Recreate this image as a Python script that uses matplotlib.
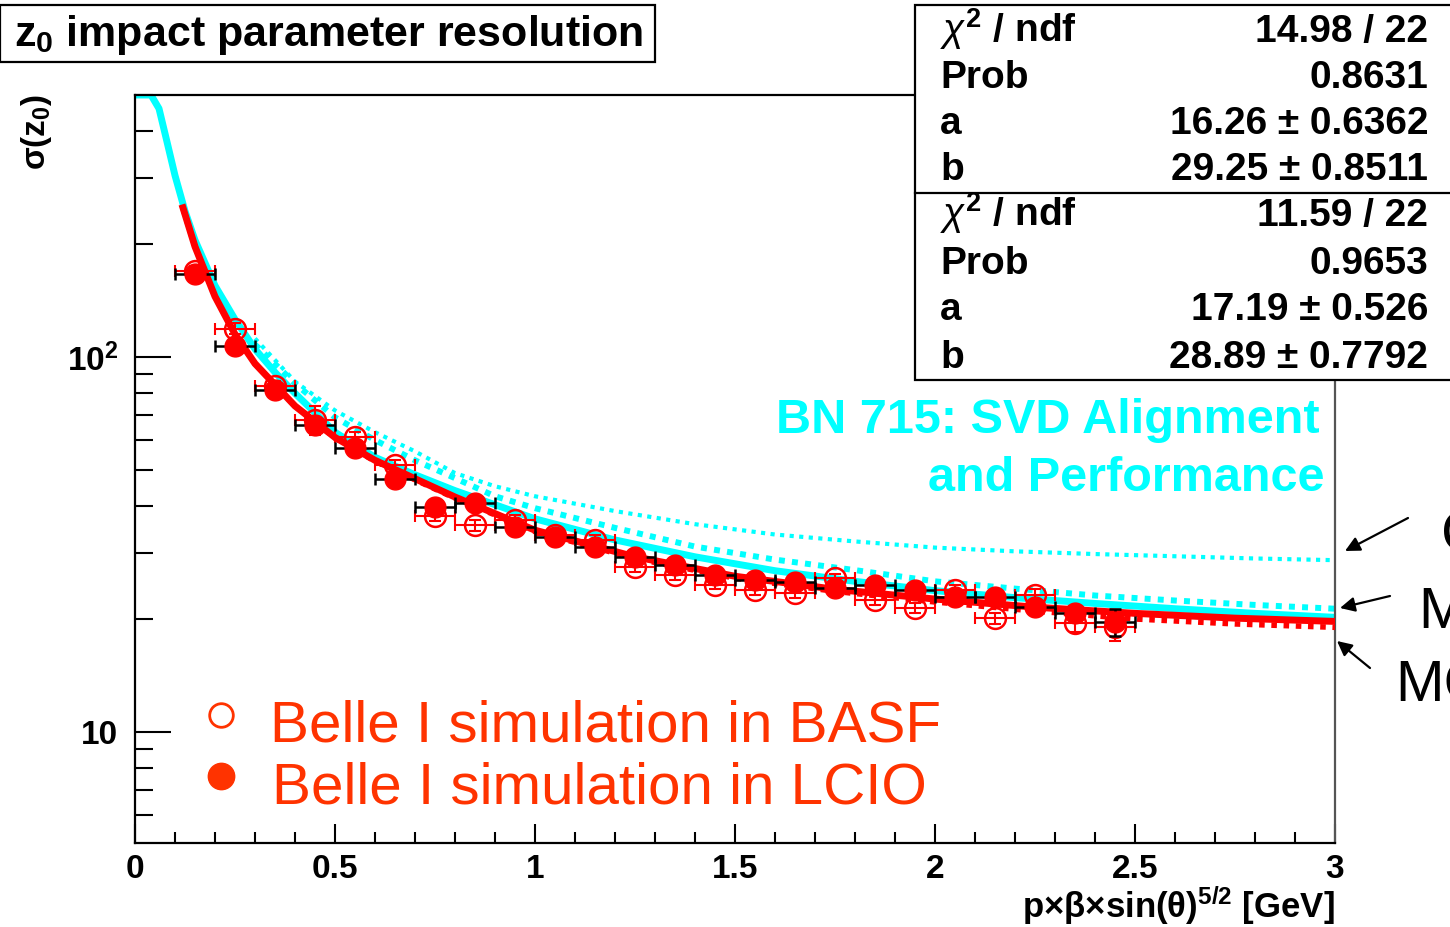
import numpy as np
import matplotlib
matplotlib.use("Agg")
import matplotlib.pyplot as plt
from matplotlib.patches import Rectangle, FancyArrowPatch
from matplotlib.lines import Line2D
from matplotlib.ticker import FixedLocator, FixedFormatter, NullFormatter, MultipleLocator, LogLocator

plt.rcParams['font.family'] = ['Liberation Sans', 'DejaVu Sans']
plt.rcParams['mathtext.fontset'] = 'custom'
plt.rcParams['mathtext.rm'] = 'Liberation Sans'
plt.rcParams['mathtext.bf'] = 'Liberation Sans:bold'
plt.rcParams['mathtext.it'] = 'Liberation Sans:italic'

# ---------------- data ----------------
bin_centers = [0.15, 0.25, 0.35, 0.45, 0.55, 0.65, 0.75, 0.85, 0.95, 1.05, 1.15, 1.25,
               1.35, 1.45, 1.55, 1.65, 1.75, 1.85, 1.95, 2.05, 2.15, 2.25, 2.35, 2.45]
bin_half_width = 0.05

lcio_sigma = [166, 107, 81.5, 66, 57.3, 47.3, 39.8, 40.8, 35.2, 33.1, 31.1, 29.3,
              27.9, 26.2, 25.4, 25.1, 24.2, 24.7, 23.9, 22.9, 22.9, 21.5, 20.8, 19.6]
lcio_err = [4, 3, 2.2, 2, 1.5, 1.3, 1.0, 1.0, 0.9, 0.8, 0.7, 0.7,
            0.6, 0.6, 0.6, 0.6, 0.6, 0.6, 0.6, 0.6, 0.6, 0.7, 0.9, 1.6]

basf_sigma = [170, 119, 83.5, 68, 61, 51.5, 37.7, 35.6, 36.7, 33.5, 32.5, 27.5,
              26.2, 24.7, 23.9, 23.5, 25.7, 22.5, 21.4, 23.9, 20.1, 23.2, 19.5, 19.0]
basf_err = [5, 4, 3, 6, 2, 1.5, 1.2, 1.2, 1.1, 1.0, 0.9, 0.8,
            0.8, 0.7, 0.7, 0.7, 0.7, 0.7, 0.7, 0.7, 0.7, 0.8, 1.0, 1.5]

fit_x = [0.12, 0.15, 0.2, 0.25, 0.3, 0.4, 0.5, 0.6, 0.8, 1.0, 1.25, 1.5, 1.75, 2.0, 2.25, 2.5, 2.75, 3.0]
fit_lcio = [250, 197, 145, 115, 96, 74, 61, 53, 42.3, 34.5, 29.3, 26.0, 24.0, 22.6, 21.5, 20.7, 20.1, 19.7]
fit_basf = [249, 197, 145, 115, 96, 74, 60.8, 52.7, 42.0, 34.2, 29.0, 25.7, 23.7, 22.2, 21.0, 20.0, 19.4, 19.0]

bn_x = [0.005, 0.04, 0.06, 0.08, 0.10, 0.125, 0.15, 0.2, 0.25, 0.3, 0.35, 0.4, 0.5, 0.6,
        0.7, 0.8, 1.0, 1.2, 1.4, 1.6, 1.8, 2.0, 2.2, 2.4, 2.6, 2.8, 3.0]
bn_solid = [500, 500, 460, 375, 305, 245, 205, 155, 126, 105, 91, 80, 63, 54,
            48.5, 44, 37, 32.5, 29.3, 26.9, 25.2, 23.8, 22.8, 22.0, 21.3, 20.7, 20.2]
bn_x2 = [0.3, 0.4, 0.5, 0.6, 0.7, 0.8, 0.9, 1.0, 1.2, 1.4, 1.6, 1.8, 2.0, 2.2, 2.4, 2.6, 2.8, 3.0]
bn_dashed = [108, 85, 69, 60, 53, 47.5, 42.5, 39.5, 35, 31.2, 28.8, 27, 25.2, 24.1, 23.1, 22.4, 21.8, 21.3]
bn_dotted = [112, 86, 72, 63, 56, 49, 45.2, 42.5, 38.8, 35.8, 33.6, 32.2, 31.0, 30.3, 29.8, 29.4, 29.0, 28.7]

xtick_vals = [0, 0.5, 1, 1.5, 2, 2.5, 3]
xtick_labels = ["0", "0.5", "1", "1.5", "2", "2.5", "3"]
ytick_vals = [10, 100]
ytick_labels = ["10", r"10$^{\mathbf{2}}$"]

stat_labels = [r"$\chi^{\mathbf{2}}$ / ndf", "Prob", "a", "b"]
stats_fit1 = ["14.98 / 22", "0.8631", "16.26 ± 0.6362", "29.25 ± 0.8511"]
stats_fit2 = ["11.59 / 22", "0.9653", "17.19 ± 0.526", "28.89 ± 0.7792"]

legend_labels = ["Belle I simulation in BASF", "Belle I simulation in LCIO"]

# ---------------- figure ----------------
W, H = 1450, 927
fig = plt.figure(figsize=(W / 100, H / 100), dpi=100)
ax = fig.add_axes([135 / W, 1 - 843 / H, 1200 / W, 748 / H])

RED = '#FF0000'
CYAN = '#00FFFF'
LEG = '#FF3300'

# BN 715 curves
ax.plot(bn_x2, bn_dotted, color=CYAN, lw=3, dashes=(1, 1.3), zorder=2, solid_capstyle='butt')
ax.plot(bn_x2, bn_dashed, color=CYAN, lw=4.3, dashes=(1, 1.2), zorder=2)
ax.plot(bn_x, bn_solid, color=CYAN, lw=5, zorder=2.1)

# fits
ax.plot(fit_x, fit_basf, color=RED, lw=4, dashes=(1, 1.2), zorder=3)
ax.plot(fit_x, fit_lcio, color=RED, lw=5, zorder=3.1)

# BASF open points
ax.errorbar(bin_centers, basf_sigma, xerr=bin_half_width, yerr=basf_err, fmt='none',
            ecolor=RED, elinewidth=1.5, capsize=4, capthick=1.5, zorder=4)
ax.plot(bin_centers, basf_sigma, 'o', mfc='none', mec=RED, mew=1.8, ms=15, zorder=4.1)

# LCIO filled points
ax.errorbar(bin_centers, lcio_sigma, xerr=bin_half_width, yerr=lcio_err, fmt='none',
            ecolor='black', elinewidth=1.8, capsize=4, capthick=1.8, zorder=5)
ax.plot(bin_centers, lcio_sigma, 'o', mfc=RED, mec=RED, ms=15, zorder=6)

ax.set_xlim(0, 3)
ax.set_yscale('log')
ax.set_ylim(5.05, 500)

ax.xaxis.set_major_locator(FixedLocator(xtick_vals))
ax.xaxis.set_major_formatter(FixedFormatter(xtick_labels))
ax.xaxis.set_minor_locator(MultipleLocator(0.1))
ax.yaxis.set_major_locator(FixedLocator(ytick_vals))
ax.yaxis.set_major_formatter(FixedFormatter(ytick_labels))
ax.yaxis.set_minor_locator(LogLocator(base=10, subs=np.arange(2, 10)))
ax.yaxis.set_minor_formatter(NullFormatter())

ax.tick_params(axis='x', which='major', direction='in', length=14, width=1.5, pad=8,
               labelsize=24, top=False)
ax.tick_params(axis='x', which='minor', direction='in', length=8, width=1.5, top=False)
ax.tick_params(axis='y', which='major', direction='in', length=26, width=1.5, pad=12,
               labelsize=24, right=False)
ax.tick_params(axis='y', which='minor', direction='in', length=13, width=1.5, right=False)
for lab in ax.get_xticklabels() + ax.get_yticklabels():
    lab.set_fontweight('bold')
for s in ax.spines.values():
    s.set_linewidth(1.6)
ax.spines['right'].set_color('#555555')


def fx(x):
    return x / W


def fy(y):
    return 1 - y / H


def rect(x0, y0, x1, y1, lw=1.6):
    r = Rectangle((fx(x0), fy(y1)), (x1 - x0) / W, (y1 - y0) / H, transform=fig.transFigure,
                  facecolor='white', edgecolor='black', lw=lw, zorder=5, clip_on=False)
    fig.add_artist(r)


# title box
rect(0, 5, 655, 62)
fig.text(fx(14), fy(46), r"z$_{\mathbf{0}}$ impact parameter resolution", fontsize=31,
         fontweight='bold', ha='left', va='baseline', zorder=6)

# stats box
rect(915, 5, 1470, 380)
fig.add_artist(Line2D([fx(915), fx(1470)], [fy(193), fy(193)], transform=fig.transFigure,
                      color='black', lw=1.6, zorder=6))
row_y = [32, 78, 124, 170, 216, 264, 310, 358]
vals = stats_fit1 + stats_fit2
labs = stat_labels + stat_labels
for yy, lab, val in zip(row_y, labs, vals):
    fig.text(fx(940), fy(yy + 10), lab, fontsize=28, fontweight='bold', ha='left',
             va='baseline', zorder=7)
    fig.text(fx(1428), fy(yy + 10), val, fontsize=28, fontweight='bold', ha='right',
             va='baseline', zorder=7)

# BN 715 note
fig.text(fx(1320), fy(433), "BN 715: SVD Alignment", color=CYAN, fontsize=35,
         fontweight='bold', ha='right', va='baseline', zorder=7)
fig.text(fx(1325), fy(491), "and Performance", color=CYAN, fontsize=35,
         fontweight='bold', ha='right', va='baseline', zorder=7)

# legend
fig.add_artist(Line2D([fx(221)], [fy(715)], marker='o', ms=17, mfc='none', mec=LEG, mew=2,
                      transform=fig.transFigure, zorder=7))
fig.add_artist(Line2D([fx(221)], [fy(776)], marker='o', ms=19, mfc=LEG, mec=LEG,
                      transform=fig.transFigure, zorder=7))
fig.text(fx(270), fy(742), legend_labels[0], color=LEG, fontsize=42, ha='left',
         va='baseline', zorder=7)
fig.text(fx(272), fy(803), legend_labels[1], color=LEG, fontsize=42, ha='left',
         va='baseline', zorder=7)

# axis labels
fig.text(fx(1335), fy(918), r"p×β×sin(θ)$^{\mathbf{5/2}}$ [GeV]", fontsize=25,
         fontweight='bold', ha='right', va='baseline')
fig.text(fx(36), fy(94), r"σ(z$_{\mathbf{0}}$)", fontsize=24, fontweight='bold',
         rotation=90, ha='center', va='top')

# labels on the right, cut off by the picture edge as in the original slide
fig.text(fx(1441), fy(552), "C", fontsize=42, ha='left', va='baseline')
fig.text(fx(1418), fy(628), "M", fontsize=42, ha='left', va='baseline')
fig.text(fx(1395), fy(701), "MC", fontsize=42, ha='left', va='baseline')
for (x0, y0), (x1, y1) in [((1408, 518), (1345, 551)), ((1390, 596), (1340, 608)),
                           ((1370, 668), (1337, 641))]:
    arr = FancyArrowPatch((fx(x0), fy(y0)), (fx(x1), fy(y1)), transform=fig.transFigure,
                          arrowstyle='-|>', mutation_scale=22, color='black', lw=1.6,
                          shrinkA=0, shrinkB=0, zorder=8)
    fig.add_artist(arr)

fig.savefig("out.png", dpi=100, facecolor='white')
